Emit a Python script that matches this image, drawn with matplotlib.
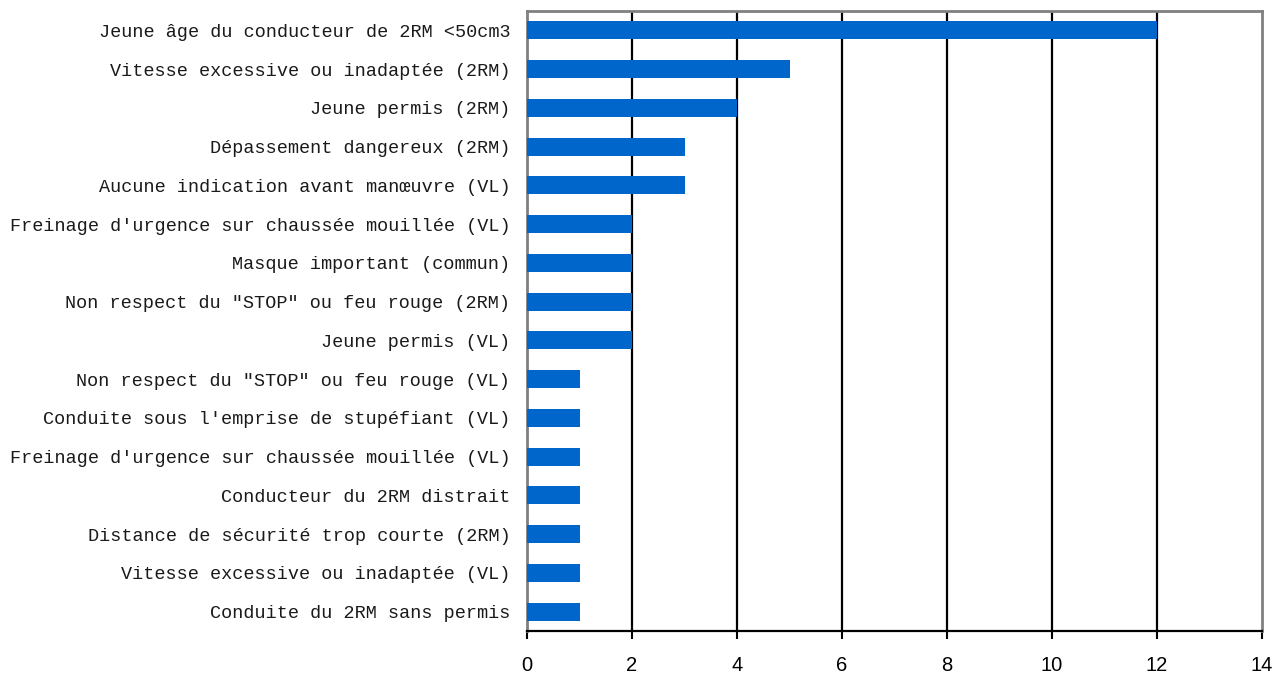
import matplotlib.pyplot as plt

# Causes (de haut en bas) et nombre d'occurrences
causes = [
    "Jeune âge du conducteur de 2RM <50cm3",
    "Vitesse excessive ou inadaptée (2RM)",
    "Jeune permis (2RM)",
    "Dépassement dangereux (2RM)",
    "Aucune indication avant manœuvre (VL)",
    "Freinage d'urgence sur chaussée mouillée (VL)",
    "Masque important (commun)",
    "Non respect du \"STOP\" ou feu rouge (2RM)",
    "Jeune permis (VL)",
    "Non respect du \"STOP\" ou feu rouge (VL)",
    "Conduite sous l'emprise de stupéfiant (VL)",
    "Freinage d'urgence sur chaussée mouillée (VL)",
    "Conducteur du 2RM distrait",
    "Distance de sécurité trop courte (2RM)",
    "Vitesse excessive ou inadaptée (VL)",
    "Conduite du 2RM sans permis",
]
valeurs = [12, 5, 4, 3, 3, 2, 2, 2, 2, 1, 1, 1, 1, 1, 1, 1]
xticks = [0, 2, 4, 6, 8, 10, 12, 14]

fig = plt.figure(figsize=(12.77, 6.73), dpi=100)
ax = fig.add_axes([527/1277, 1 - 631/673, (1262-527)/1277, 620/673])

pos = list(range(len(causes)))
ax.barh(pos, valeurs, height=0.47, color="#0066CC", zorder=3)
ax.set_ylim(len(causes) - 0.5, -0.5)
ax.set_xlim(0, 14)

ax.set_yticks(pos)
ax.set_yticklabels(causes, family="Liberation Mono", fontsize=13.3, color="#1a1a1a")
ax.tick_params(axis="y", length=0, pad=12)

ax.set_xticks(xticks)
ax.set_xticklabels([str(t) for t in xticks], family="Liberation Sans", fontsize=14.5)
ax.tick_params(axis="x", direction="out", length=6, width=1.5, pad=12, color="black")

for t in xticks[1:-1]:
    ax.axvline(t, color="black", lw=1.6, zorder=2)

for s in ["top", "right", "left"]:
    ax.spines[s].set_color("#808080")
    ax.spines[s].set_linewidth(2)
ax.spines["bottom"].set_color("black")
ax.spines["bottom"].set_linewidth(1.6)
ax.spines["bottom"].set_zorder(4)

fig.savefig("out.png", dpi=100)
